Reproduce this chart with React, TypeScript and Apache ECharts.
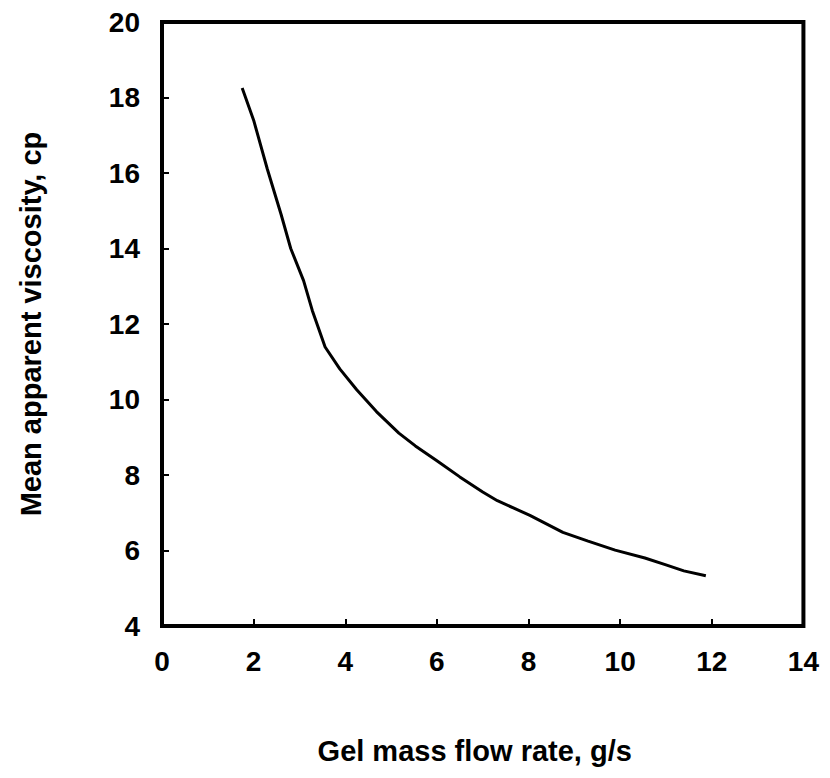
import React, { useEffect, useRef } from "react";
import * as echarts from "echarts";

const flowRate = [1.75, 2.0, 2.3, 2.6, 2.81, 3.09, 3.28, 3.56, 3.88, 4.25, 4.68, 5.17, 5.53, 6.0, 6.5, 7.0, 7.32, 8.03, 8.75, 9.3, 9.89, 10.54, 11.0, 11.39, 11.87];
const viscosity = [18.25, 17.4, 16.1, 14.9, 14.0, 13.15, 12.36, 11.39, 10.81, 10.26, 9.68, 9.11, 8.77, 8.38, 7.95, 7.55, 7.32, 6.93, 6.48, 6.25, 6.01, 5.8, 5.62, 5.46, 5.33];

const xTitle = "Gel mass flow rate, g/s";
const yTitle = "Mean apparent viscosity, cp";

export default function App() {
  const ref = useRef<HTMLDivElement>(null);
  useEffect(() => {
    const chart = echarts.init(ref.current!, null, { renderer: "svg" });
    const font = "'Liberation Sans', Arial, sans-serif";
    chart.setOption({
      animation: false,
      backgroundColor: "#fff",
      grid: {
        left: 151,
        top: 14,
        width: 653,
        height: 609,
        show: true,
        borderColor: "#000",
        borderWidth: 4,
        backgroundColor: "transparent",
      },
      xAxis: {
        type: "value",
        min: 0,
        max: 14,
        interval: 2,
        name: xTitle,
        nameLocation: "middle",
        nameGap: 110,
        nameTextStyle: { fontFamily: font, fontWeight: "bold", fontSize: 29, color: "#000", padding: [0, 16, 0, 0] },
        axisLine: { show: false },
        axisTick: { show: true, inside: true, length: 7, lineStyle: { color: "#000", width: 2 } },
        axisLabel: { margin: 21, fontFamily: font, fontWeight: "bold", fontSize: 28, color: "#000" },
        splitLine: { show: false },
      },
      yAxis: {
        type: "value",
        min: 4,
        max: 20,
        interval: 2,
        name: yTitle,
        nameLocation: "middle",
        nameGap: 117,
        nameTextStyle: { fontFamily: font, fontWeight: "bold", fontSize: 29, color: "#000" },
        axisLine: { show: false },
        axisTick: { show: true, inside: true, length: 7, lineStyle: { color: "#000", width: 2 } },
        axisLabel: { margin: 22, fontFamily: font, fontWeight: "bold", fontSize: 28, color: "#000" },
        splitLine: { show: false },
      },
      series: [
        {
          type: "line",
          data: flowRate.map((x, i) => [x, viscosity[i]]),
          showSymbol: false,
          symbol: "none",
          lineStyle: { color: "#000", width: 3 },
        },
      ],
    });
    return () => chart.dispose();
  }, []);
  return <div ref={ref} style={{ width: 814, height: 762 }} />;
}
